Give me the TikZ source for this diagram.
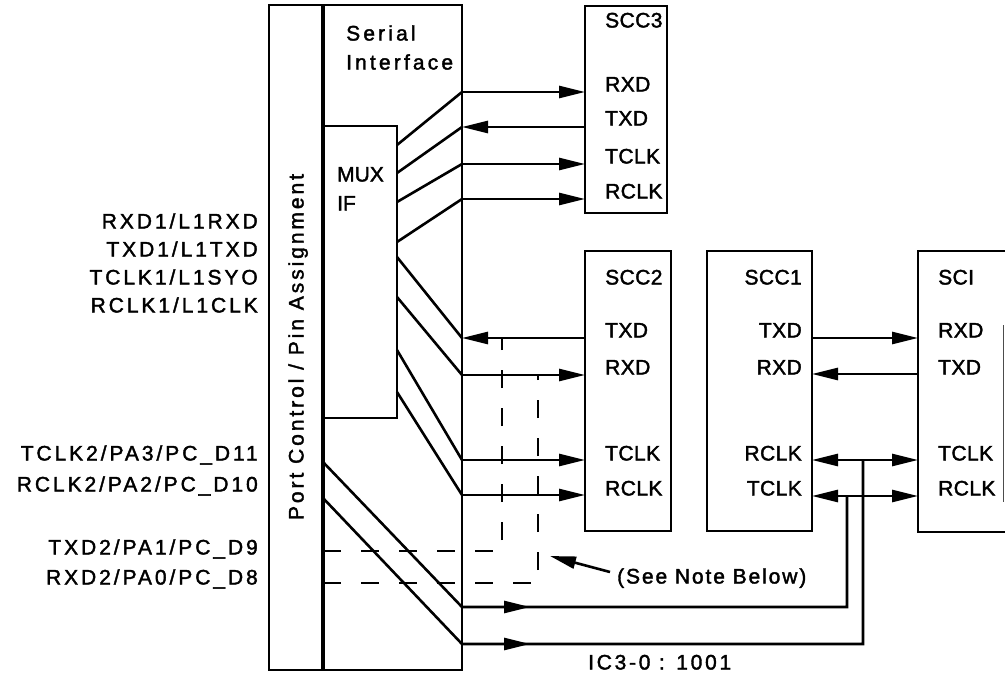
\documentclass[tikz,border=0pt]{standalone}
\usepackage{fontspec}
\setmainfont{Liberation Sans}[LetterSpace=2,FakeBold=1.8]
\newfontfamily\pinF{Liberation Sans}[LetterSpace=14,FakeBold=1.8]
\newfontfamily\wideA{Liberation Sans}[LetterSpace=15,FakeBold=1.8]
\newfontfamily\wideB{Liberation Sans}[LetterSpace=9,FakeBold=1.8]
\newfontfamily\wideC{Liberation Sans}[LetterSpace=13,FakeBold=1.8]
\newfontfamily\wideR{Liberation Sans}[LetterSpace=14,FakeBold=1.8]
\newfontfamily\plainF{Liberation Sans}[FakeBold=1.8]
\usetikzlibrary{arrows.meta}
\begin{document}
\begin{tikzpicture}[x=1pt,y=-1pt,
  box/.style={line width=2.6pt,line join=miter},
  wire/.style={line width=2.6pt,line join=miter},
  dashwire/.style={line width=2.4pt,dash pattern=on 18pt off 20pt},
  >={Triangle[length=26pt,width=12pt]},
  lbl/.style={font=\fontsize{21}{25}\selectfont,inner sep=0pt,text height=15pt,text depth=0pt},
  lw/.style={lbl,anchor=west},
  le/.style={lbl,anchor=east},
  pin/.style={lbl,anchor=east,font=\pinF\fontsize{21}{25}\selectfont},
]
\useasboundingbox (0,0) rectangle (1005,675);

% ---- main blocks
\draw[box] (269,5) rectangle (462,670);
\draw[line width=4.5pt] (323,5) -- (323,670);
\draw[box] (323,126) -- (397,126) -- (397,418) -- (323,418);
\draw[box] (585,6) rectangle (667,213);
\draw[box] (585,251) rectangle (671,531);
\draw[box] (707,251) rectangle (812,531);
\draw[box] (1005,251) -- (918,251) -- (918,532) -- (1005,532);
\draw[line width=1pt,black!70] (1003,325) -- (1003,502);

% ---- texts in blocks
\node[lbl,rotate=90,font=\wideR\fontsize{21}{25}\selectfont] (pc) at (296,347) {Port Control / Pin Assignment};
\node[lw,font=\wideA\fontsize{21}{25}\selectfont] (t1) at (346,33) {Serial};
\node[lw,font=\wideA\fontsize{21}{25}\selectfont] (t2) at (346,62) {Interface};
\node[lw,font=\plainF\fontsize{21}{25}\selectfont] (t3) at (337,174) {MUX};
\node[lw,font=\plainF\fontsize{21}{25}\selectfont] (t4) at (337,203) {IF};

\node[lw] (n3) at (605,20) {SCC3};
\node[lw] at (605,84) {RXD};
\node[lw] at (605,118) {TXD};
\node[lw] at (605,156) {TCLK};
\node[lw] at (605,191) {RCLK};

\node[lw] (n2) at (605,277) {SCC2};
\node[lw] at (605,330) {TXD};
\node[lw] at (605,367) {RXD};
\node[lw] at (605,453) {TCLK};
\node[lw] at (605,488) {RCLK};

\node[le] (n1) at (802,277) {SCC1};
\node[le] at (802,330) {TXD};
\node[le] at (802,367) {RXD};
\node[le] at (802,453) {RCLK};
\node[le] at (802,488) {TCLK};

\node[lw] (ns) at (938,277) {SCI};
\node[lw] at (938,330) {RXD};
\node[lw] at (938,367) {TXD};
\node[lw] at (938,453) {TCLK};
\node[lw] at (938,488) {RCLK};

% ---- pin labels
\node[pin] at (258,221) {RXD1/L1RXD};
\node[pin] at (258,249) {TXD1/L1TXD};
\node[pin] at (258,277) {TCLK1/L1SYO};
\node[pin] at (258,305) {RCLK1/L1CLK};
\node[pin] at (258,453) {TCLK2/PA3/PC\_D11};
\node[pin] at (258,484) {RCLK2/PA2/PC\_D10};
\node[pin] at (258,547) {TXD2/PA1/PC\_D9};
\node[pin] at (258,577) {RXD2/PA0/PC\_D8};

% ---- coordinates
\coordinate (ma1) at (397,145); \coordinate (sa1) at (462,92);  \coordinate (pa1) at (585,92);
\coordinate (ma2) at (397,173); \coordinate (sa2) at (462,127); \coordinate (pa2) at (585,127);
\coordinate (ma3) at (397,202); \coordinate (sa3) at (462,164); \coordinate (pa3) at (585,164);
\coordinate (ma4) at (397,242); \coordinate (sa4) at (462,199); \coordinate (pa4) at (585,199);
\coordinate (ma5) at (397,257); \coordinate (sa5) at (462,338); \coordinate (pa5) at (585,338);
\coordinate (ma6) at (397,297); \coordinate (sa6) at (462,375); \coordinate (pa6) at (585,375);
\coordinate (ma7) at (397,350); \coordinate (sa7) at (462,460); \coordinate (pa7) at (585,460);
\coordinate (ma8) at (397,392); \coordinate (sa8) at (462,495); \coordinate (pa8) at (585,495);

\coordinate (b1s) at (323,462); \coordinate (b1k) at (462,607); \coordinate (b1a) at (530,607); \coordinate (b1e) at (847,607);
\coordinate (b2s) at (323,498); \coordinate (b2k) at (462,644); \coordinate (b2a) at (530,644); \coordinate (b2e) at (863,644);

\coordinate (c1tx) at (812,338); \coordinate (sirx) at (918,338);
\coordinate (c1rx) at (812,374); \coordinate (sitx) at (918,374);
\coordinate (c1rc) at (812,460); \coordinate (sitc) at (918,460); \coordinate (j1) at (863,460);
\coordinate (c1tc) at (812,496); \coordinate (sirc) at (918,496); \coordinate (j2) at (847,496);

% ---- SCC3 connectors
\draw[wire] (ma1) -- (sa1); \draw[wire,->] (sa1) -- (pa1);
\draw[wire] (ma2) -- (sa2); \draw[wire,->] (pa2) -- (sa2);
\draw[wire] (ma3) -- (sa3); \draw[wire,->] (sa3) -- (pa3);
\draw[wire] (ma4) -- (sa4); \draw[wire,->] (sa4) -- (pa4);
% ---- SCC2 connectors
\draw[wire] (ma5) -- (sa5); \draw[wire,->] (pa5) -- (sa5);
\draw[wire] (ma6) -- (sa6); \draw[wire,->] (sa6) -- (pa6);
\draw[wire] (ma7) -- (sa7); \draw[wire,->] (sa7) -- (pa7);
\draw[wire] (ma8) -- (sa8); \draw[wire,->] (sa8) -- (pa8);
% ---- bottom paths to SCC1 / SCI clocks
\draw[wire] (b1s) -- (b1k) -- (b1e) -- (j2);
\draw[wire,->] (b1k) -- (b1a);
\draw[wire] (b2s) -- (b2k) -- (b2e) -- (j1);
\draw[wire,->] (b2k) -- (b2a);
% ---- SCC1 <-> SCI
\draw[wire,->] (c1tx) -- (sirx);
\draw[wire,->] (sitx) -- (c1rx);
\draw[wire,<->] (c1rc) -- (sitc);
\draw[wire,<->] (c1tc) -- (sirc);

% ---- dashed alternatives
\coordinate (d1s) at (323,551); \coordinate (d1k) at (502,551); \coordinate (d1e) at (502,338);
\coordinate (d2s) at (323,583); \coordinate (d2k) at (538,583); \coordinate (d2e) at (538,375);
\draw[dashwire] (d1s) -- (d1k) -- (d1e);
\draw[dashwire] (d2s) -- (d2k) -- (d2e);

% ---- note
\node[lw,font=\wideB\fontsize{21}{25}\selectfont] (note) at (617,576) {(See Note Below)};
\coordinate (nt) at (550,556);
\draw[line width=2.6pt,->] (note.west) ++(-7,-4) coordinate (nf) -- (nt);
\node[lw,font=\wideC\fontsize{21}{25}\selectfont] (ic) at (588,662) {IC3-0 : 1001};
\end{tikzpicture}
\end{document}
